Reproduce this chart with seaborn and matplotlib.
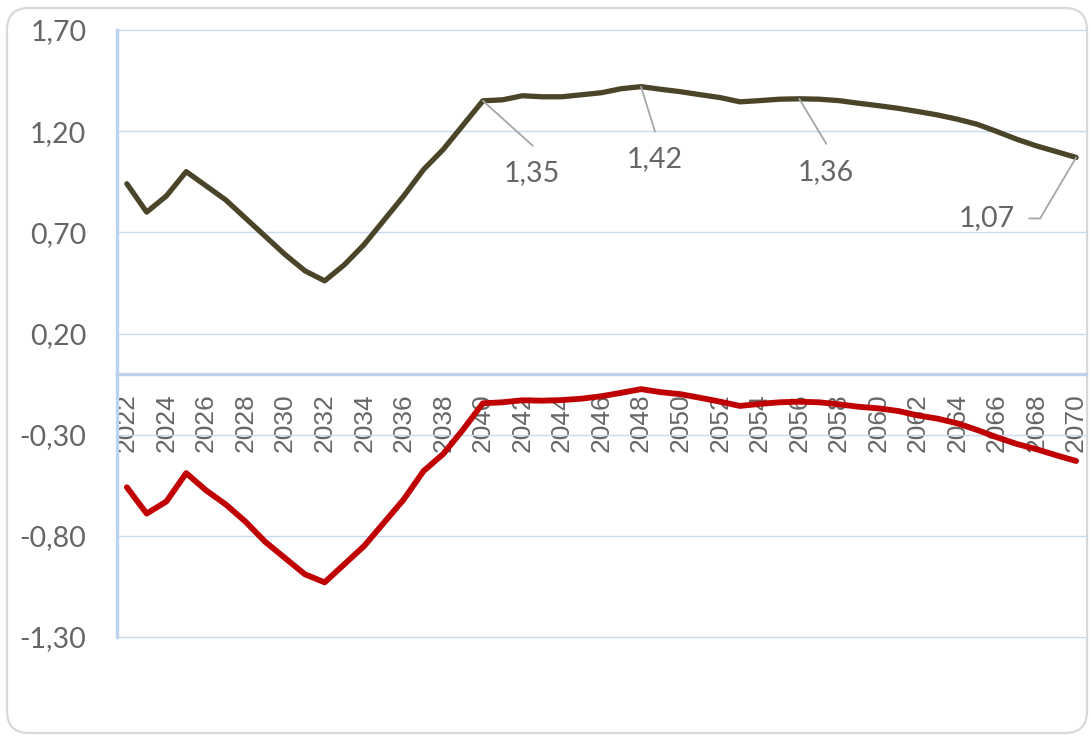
import numpy as np
import pandas as pd
import matplotlib
matplotlib.use("Agg")
import matplotlib.pyplot as plt
from matplotlib.patches import FancyBboxPatch
from matplotlib.transforms import IdentityTransform, offset_copy
import seaborn as sns

# ---- data -------------------------------------------------------------
years = list(range(2022, 2071))

serie_a = [0.94, 0.80, 0.88, 1.00, 0.93, 0.86, 0.77, 0.68, 0.59, 0.51,
           0.46, 0.54, 0.64, 0.76, 0.88, 1.01, 1.11, 1.23, 1.35, 1.355,
           1.375, 1.37, 1.37, 1.38, 1.39, 1.41, 1.42, 1.407, 1.395, 1.38,
           1.366, 1.345, 1.351, 1.358, 1.36, 1.358, 1.351, 1.338, 1.326, 1.313,
           1.297, 1.28, 1.259, 1.234, 1.198, 1.16, 1.127, 1.099, 1.07]

serie_b = [-0.56, -0.69, -0.63, -0.49, -0.575, -0.645, -0.73, -0.83, -0.91, -0.99,
           -1.03, -0.94, -0.85, -0.735, -0.62, -0.48, -0.395, -0.275, -0.145, -0.14,
           -0.13, -0.132, -0.129, -0.122, -0.11, -0.093, -0.075, -0.09, -0.10, -0.118,
           -0.137, -0.158, -0.148, -0.14, -0.137, -0.14, -0.15, -0.162, -0.17, -0.183,
           -0.205, -0.221, -0.244, -0.277, -0.313, -0.346, -0.372, -0.402, -0.43]

y_ticks = [-1.30, -0.80, -0.30, 0.20, 0.70, 1.20, 1.70]
x_ticks = years[::2]
labelled_years = [2040, 2048, 2056, 2070]

# ---- style ------------------------------------------------------------
sns.set_style("white")
plt.rcParams["font.family"] = ["Lato", "DejaVu Sans"]

TEXT = "#666666"
GRID = "#c9daf0"
AXIS = "#bcd2ee"
OLIVE = "#4a4428"
RED = "#c00000"
LABEL_SIZE = 20.5

W, H, DPI = 1091, 736, 100
fig = plt.figure(figsize=(W / DPI, H / DPI), dpi=DPI)
ax = fig.add_axes([117 / W, 1 - 637 / H, (1086 - 117) / W, (637 - 30) / H])

df = pd.DataFrame({
    "anno": years * 2,
    "valore": serie_a + serie_b,
    "serie": ["A"] * len(years) + ["B"] * len(years),
})
sns.lineplot(data=df, x="anno", y="valore", hue="serie",
             palette={"A": OLIVE, "B": RED}, size="serie",
             sizes={"A": 3.8, "B": 4.2}, legend=False, ax=ax, zorder=3)

# ---- axes -------------------------------------------------------------
ax.set_xlim(years[0] - 0.5, years[-1] + 0.5)
ax.set_ylim(-1.30, 1.70)
ax.set_yticks(y_ticks)
ax.set_yticklabels([f"{v:.2f}".replace(".", ",") for v in y_ticks])
ax.set_xticks(x_ticks)
ax.set_xticklabels([str(y) for y in x_ticks])
ax.set_xlabel("")
ax.set_ylabel("")

ax.yaxis.grid(True, color=GRID, linewidth=1.0)
ax.xaxis.grid(False)
for gl in ax.get_ygridlines():
    gl.set_clip_on(False)
for side in ("top", "right"):
    ax.spines[side].set_visible(False)
ax.spines["left"].set_color(AXIS)
ax.spines["left"].set_linewidth(2.4)
ax.spines["bottom"].set_color(AXIS)
ax.spines["bottom"].set_linewidth(2.4)
ax.spines["bottom"].set_position(("data", 0))
ax.spines["bottom"].set_zorder(2)

ax.tick_params(axis="y", length=0, pad=22, labelsize=LABEL_SIZE, labelcolor=TEXT)
ax.tick_params(axis="x", length=0, pad=14, labelsize=19, labelcolor=TEXT,
               labelrotation=90)
for lab in ax.get_xticklabels():
    lab.set_family(["Liberation Sans", "DejaVu Sans"])

# ---- value labels with leader lines -----------------------------------
LEAD = "#a6a6a6"
line_kw = dict(arrowstyle="-", color=LEAD, lw=1.3, shrinkA=0, shrinkB=0)
offsets = {2040: (49, -72, 50, -45),
           2048: (14, -72, 14, -45),
           2056: (27, -73, 27, -45)}
for yr in labelled_years:
    val = serie_a[years.index(yr)]
    txt = f"{val:.2f}".replace(".", ",")
    if yr in offsets:
        tx, ty, lx, ly = offsets[yr]
        ax.annotate("", xy=(yr, val), xytext=(lx, ly), textcoords="offset pixels",
                    arrowprops=line_kw, zorder=4)
    else:
        tx, ty = -89, -61
        ax.annotate("", xy=(yr, val), xytext=(-36, -61), textcoords="offset pixels",
                    arrowprops=line_kw, zorder=4)
        elbow = offset_copy(ax.transData, fig=fig, x=-36, y=-61, units="dots")
        ax.annotate("", xy=(yr, val), xycoords=elbow, xytext=(-11, 0),
                    textcoords="offset pixels", arrowprops=line_kw, zorder=4)
    ax.annotate(txt, xy=(yr, val), xytext=(tx, ty), textcoords="offset pixels",
                ha="center", va="center", fontsize=LABEL_SIZE,
                color=TEXT, zorder=5)

# ---- chart frame ------------------------------------------------------
frame = FancyBboxPatch((7, 3), 1087 - 7, 728 - 3,
                       boxstyle="round,pad=0,rounding_size=22",
                       transform=IdentityTransform(), facecolor="none",
                       edgecolor="#d9d9d9", linewidth=1.6, zorder=0)
fig.add_artist(frame)

fig.savefig("out.png", dpi=DPI)
